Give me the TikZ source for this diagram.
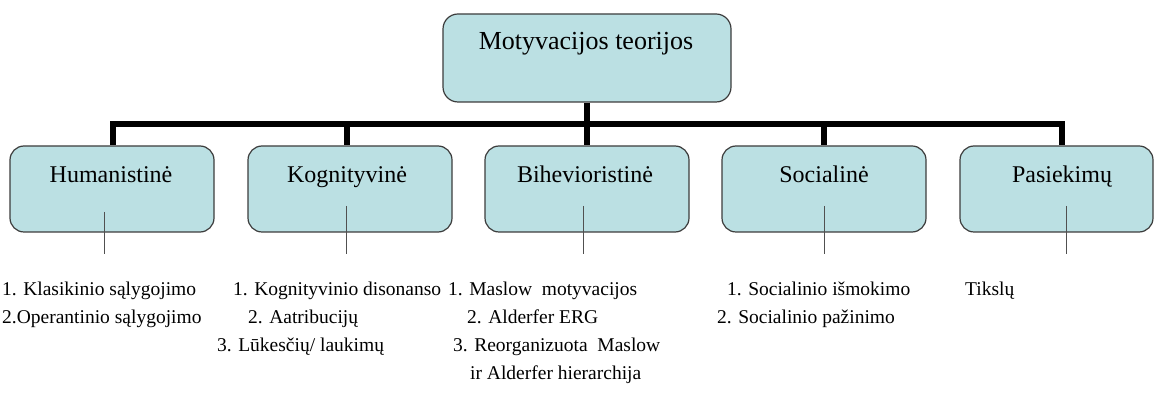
\documentclass[tikz,border=0pt]{standalone}
\usepackage{fontspec}
\setmainfont{Liberation Serif}
\definecolor{boxfill}{RGB}{187,224,227}
\definecolor{boxline}{RGB}{60,60,60}
\definecolor{thinline}{RGB}{80,80,80}
\begin{document}
\begin{tikzpicture}[x=1pt,y=-1pt,
  topbox/.style={draw=boxline,line width=1.2pt,fill=boxfill,rounded corners=15pt,minimum width=288pt,minimum height=88pt,inner sep=0pt},
  childbox/.style={draw=boxline,line width=1.2pt,fill=boxfill,rounded corners=14pt,minimum width=204pt,minimum height=86pt,inner sep=0pt},
  toptitle/.style={font=\fontsize{26}{30}\selectfont,anchor=base,inner sep=0pt},
  childtitle/.style={font=\fontsize{24}{28}\selectfont,anchor=base,inner sep=0pt},
  item/.style={font=\fontsize{19.5}{23}\selectfont,anchor=base west,inner sep=0pt},
  thickline/.style={line width=6pt,black},
  thinconn/.style={line width=1pt,thinline}]
\useasboundingbox (0,0) rectangle (1154,411);
% boxes
\node[topbox] (top) at (587,58) {};
\node[toptitle] (toptxt) at (586,50) {Motyvacijos teorijos};
\node[childbox] (hum) at (112,189) {};
\node[childbox] (kog) at (350,189) {};
\node[childbox] (bih) at (587,189) {};
\node[childbox] (soc) at (824,189) {};
\node[childbox,minimum width=193pt] (pas) at (1056.5,189) {};
\node[childtitle] (humt) at (111,183) {Humanistinė};
\node[childtitle] (kogt) at (347,183) {Kognityvinė};
\node[childtitle] (biht) at (585,183) {Bihevioristinė};
\node[childtitle] (soct) at (824,183) {Socialinė};
\node[childtitle] (past) at (1062,183) {Pasiekimų};
% bar coordinates
\coordinate (barL) at (113,124);
\coordinate (barR) at (1062,124);
\coordinate (sHum) at (113,124);
\coordinate (sKog) at (347,124);
\coordinate (sBih) at (587,124);
\coordinate (sSoc) at (824,124);
\coordinate (sPas) at (1062,124);
% thick connectors
\draw[thickline] (top.south -| sBih) -- (sBih);
\draw[thickline,line cap=rect] (barL) -- (barR);
\draw[thickline] (sHum) -- (sHum |- hum.north);
\draw[thickline] (sKog) -- (sKog |- kog.north);
\draw[thickline] (sBih) -- (sBih |- bih.north);
\draw[thickline] (sSoc) -- (sSoc |- soc.north);
\draw[thickline] (sPas) -- (sPas |- pas.north);
% thin connectors
\coordinate (hA) at (104,212); \coordinate (hB) at (104,254);
\coordinate (kA) at (346,206); \coordinate (kB) at (346,254);
\coordinate (bA) at (583,206); \coordinate (bB) at (583,254);
\coordinate (cA) at (824,206); \coordinate (cB) at (824,254);
\coordinate (pA) at (1066,206); \coordinate (pB) at (1066,254);
\draw[thinconn] (hA) -- (hB);
\draw[thinconn] (kA) -- (kB);
\draw[thinconn] (bA) -- (bB);
\draw[thinconn] (cA) -- (cB);
\draw[thinconn] (pA) -- (pB);
% list texts
\node[item] (h1) at (2,296) {1. Klasikinio sąlygojimo};
\node[item] (h2) at (2,324) {2.Operantinio sąlygojimo};
\node[item] (k1) at (233,296) {1. Kognityvinio disonanso};
\node[item] (k2) at (248,324) {2. Aatribucijų};
\node[item] (k3) at (217,352) {3. Lūkesčių/ laukimų};
\node[item] (b1) at (448,296) {1. Maslow\ \ motyvacijos};
\node[item] (b2) at (467,324) {2. Alderfer ERG};
\node[item] (b3) at (453,352) {3. Reorganizuota\ \ Maslow};
\node[item] (b4) at (470,380) {ir Alderfer hierarchija};
\node[item] (c1) at (727,296) {1. Socialinio išmokimo};
\node[item] (c2) at (717,324) {2. Socialinio pažinimo};
\node[item] (p1) at (965,296) {Tikslų};
\end{tikzpicture}
\end{document}
